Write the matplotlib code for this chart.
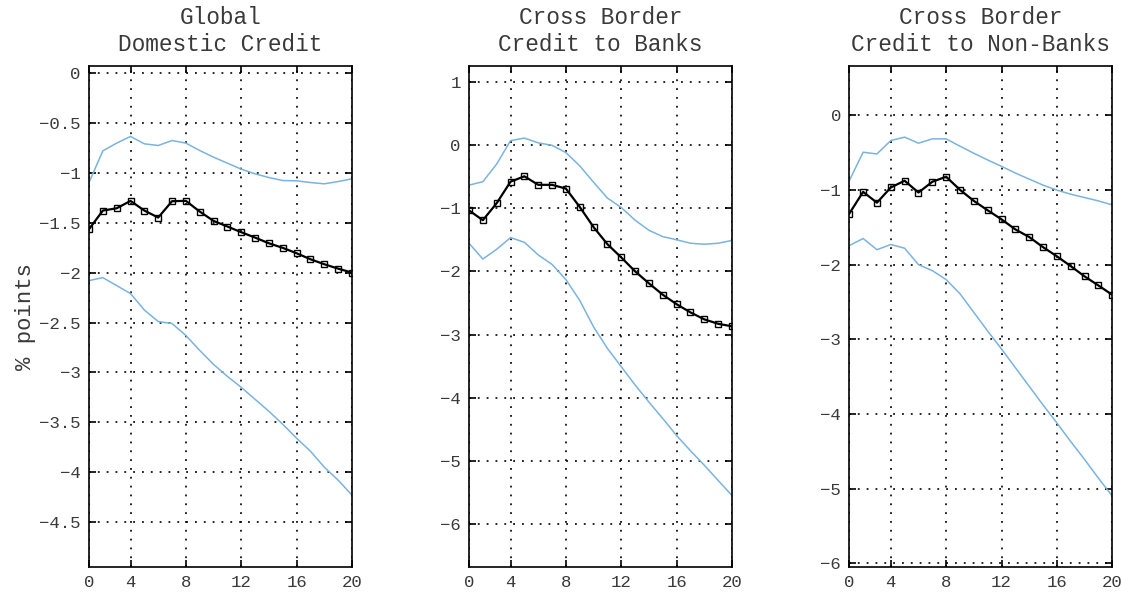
import numpy as np
import matplotlib
matplotlib.use('Agg')
import matplotlib.pyplot as plt

horizon = np.arange(1, 21)

titles = ['Global\nDomestic Credit',
          'Cross Border\nCredit to Banks',
          'Cross Border\nCredit to Non-Banks']

# panel 1: global domestic credit
dom_mid = [-1.565, -1.378, -1.355, -1.281, -1.378, -1.448, -1.284, -1.281, -1.388, -1.482,
           -1.538, -1.595, -1.649, -1.706, -1.752, -1.806, -1.866, -1.916, -1.960, -2.000]
dom_hi = [-1.097, -0.779, -0.702, -0.635, -0.709, -0.726, -0.676, -0.702, -0.776, -0.843,
          -0.903, -0.963, -1.010, -1.047, -1.077, -1.080, -1.097, -1.110, -1.087, -1.060]
dom_lo = [-2.08, -2.05, -2.13, -2.21, -2.375, -2.49, -2.51, -2.63, -2.78, -2.92,
          -3.04, -3.15, -3.27, -3.39, -3.52, -3.66, -3.79, -3.95, -4.08, -4.23]

# panel 2: cross border credit to banks
bank_mid = [-1.035, -1.19, -0.92, -0.58, -0.495, -0.63, -0.63, -0.69, -0.98, -1.30,
            -1.57, -1.78, -2.00, -2.19, -2.37, -2.52, -2.65, -2.76, -2.83, -2.87]
bank_hi = [-0.635, -0.58, -0.30, 0.07, 0.11, 0.035, -0.005, -0.12, -0.33, -0.59,
           -0.84, -0.99, -1.19, -1.35, -1.45, -1.50, -1.555, -1.57, -1.555, -1.51]
bank_lo = [-1.555, -1.805, -1.65, -1.465, -1.54, -1.74, -1.89, -2.13, -2.46, -2.88,
           -3.22, -3.51, -3.80, -4.07, -4.33, -4.60, -4.84, -5.07, -5.31, -5.55]

# panel 3: cross border credit to non-banks
nonbank_mid = [-1.317, -1.025, -1.17, -0.966, -0.876, -1.034, -0.89, -0.822, -0.998, -1.146,
               -1.272, -1.393, -1.528, -1.63, -1.766, -1.888, -2.02, -2.157, -2.279, -2.404]
nonbank_hi = [-0.876, -0.494, -0.517, -0.337, -0.292, -0.373, -0.315, -0.315, -0.413, -0.508,
              -0.598, -0.683, -0.773, -0.854, -0.935, -1.002, -1.056, -1.101, -1.146, -1.20]
nonbank_lo = [-1.744, -1.65, -1.80, -1.73, -1.78, -2.00, -2.08, -2.20, -2.39, -2.64,
              -2.89, -3.13, -3.38, -3.63, -3.88, -4.12, -4.37, -4.61, -4.86, -5.10]

xtick_pos = [1, 4, 8, 12, 16, 20]
xtick_labels = ['0', '4', '8', '12', '16', '20']
yticks = [np.arange(-4.5, 0.01, 0.5), np.arange(-6, 1.01, 1), np.arange(-6, 0.01, 1)]
ylims = [(-4.95, 0.07), (-6.68, 1.25), (-6.05, 0.66)]

mids = [dom_mid, bank_mid, nonbank_mid]
his = [dom_hi, bank_hi, nonbank_hi]
los = [dom_lo, bank_lo, nonbank_lo]

band_color = '#7ab4de'
text_color = '#3a3a3a'
mono = 'Liberation Mono'

fig = plt.figure(figsize=(11.21, 5.97), dpi=100)
lefts = [0.0794, 0.4184, 0.7576]

for i in range(3):
    ax = fig.add_axes([lefts[i], 0.0503, 0.2346, 0.839])
    ax.plot(horizon, his[i], color=band_color, lw=1.1)
    ax.plot(horizon, los[i], color=band_color, lw=1.1)
    ax.plot(horizon, mids[i], color='black', lw=1.6, marker='s', markersize=4.2,
            mfc='none', mec='black', mew=1.0)
    ax.set_xlim(1, 20)
    ax.set_ylim(*ylims[i])
    ax.set_xticks(xtick_pos)
    ax.set_xticklabels(xtick_labels)
    ax.set_yticks(yticks[i])
    ax.set_yticklabels([('%g' % v).replace('-', '\u2212') if abs(v) > 1e-9 else '0'
                        for v in yticks[i]])
    ax.grid(True, color='black', lw=1.2, linestyle=(0, (1.1, 4.2)))
    ax.tick_params(direction='in', length=5, width=1.2, top=True, right=True,
                   labelsize=12.5, labelcolor=text_color, pad=6)
    for lab in ax.get_xticklabels() + ax.get_yticklabels():
        lab.set_family(mono)
    for sp in ax.spines.values():
        sp.set_linewidth(1.2)
    ax.set_title(titles[i], family=mono, fontsize=16.4, color=text_color,
                 linespacing=1.2, pad=11)
    if i == 0:
        ax.set_ylabel('% points', family=mono, fontsize=16, color=text_color,
                      labelpad=2)

fig.savefig('out.png', dpi=100)
